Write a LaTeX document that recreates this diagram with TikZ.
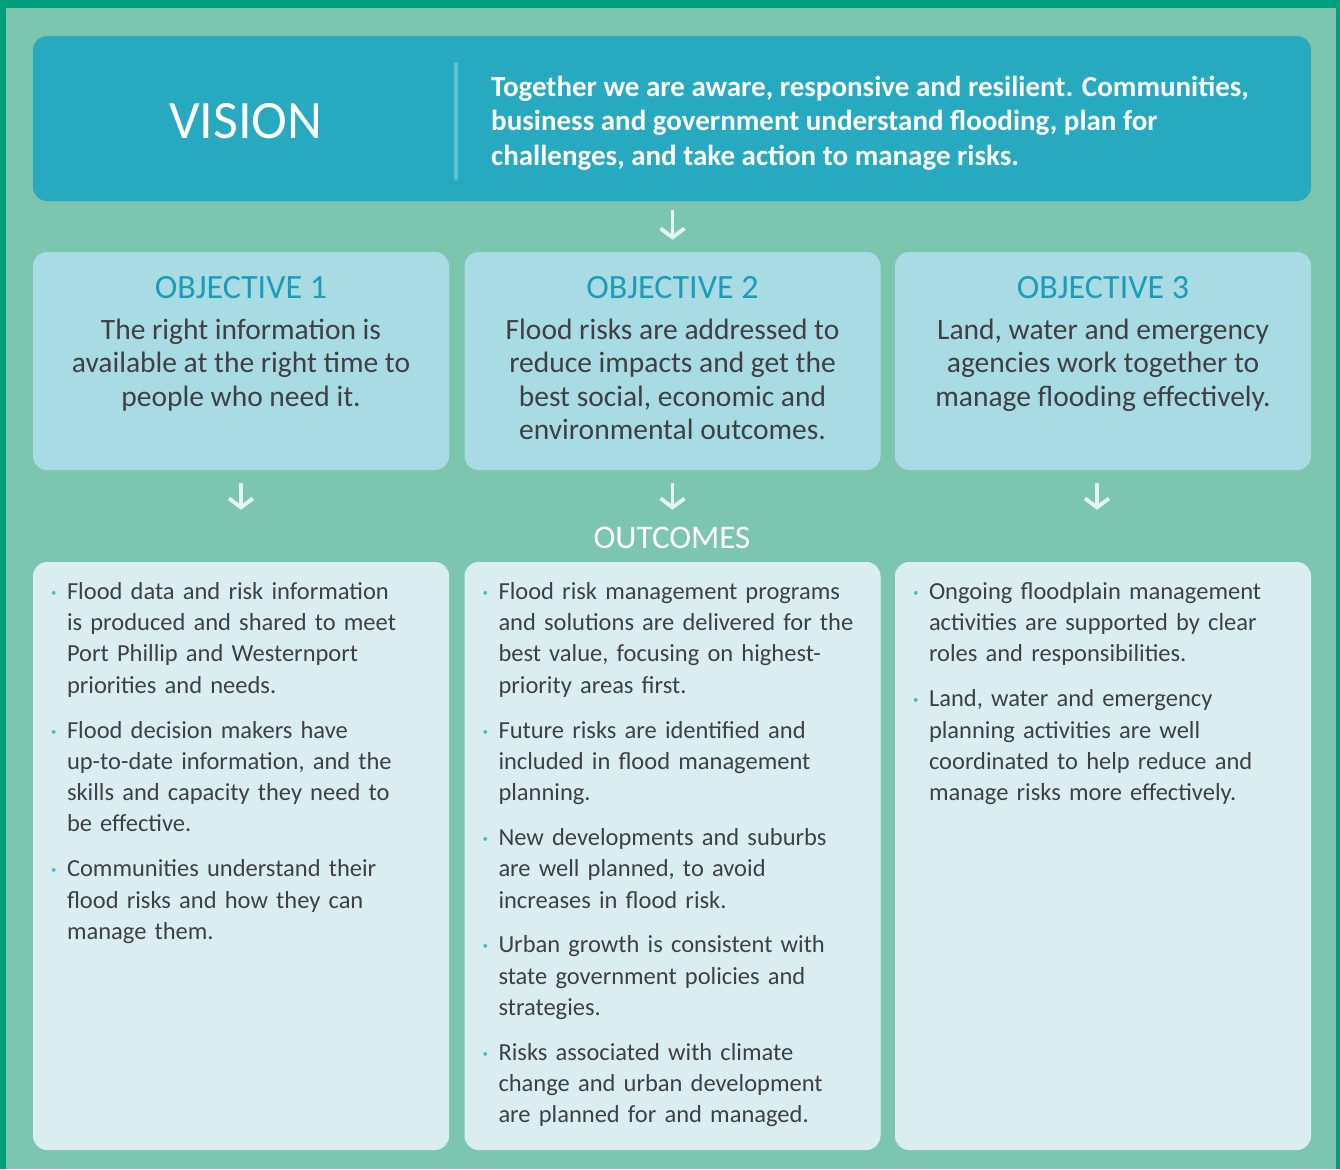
\documentclass[tikz,border=0pt]{standalone}
\usepackage{fontspec}
\setmainfont{Carlito}
\usetikzlibrary{arrows.meta,positioning}
\definecolor{frame}{HTML}{00A07C}
\definecolor{bg}{HTML}{7CC6AF}
\definecolor{vision}{HTML}{27AABF}
\definecolor{divider}{HTML}{5EC0D0}
\definecolor{objfill}{HTML}{A9DBE4}
\definecolor{objblue}{HTML}{1B9DBA}
\definecolor{outfill}{HTML}{DAEEF2}
\definecolor{bodygray}{HTML}{3E4042}
\definecolor{arrowc}{HTML}{E4F4EF}
\definecolor{dotc}{HTML}{4DB8CC}
\tikzset{
  panel/.style={rounded corners=14pt, inner sep=0pt},
  visionbox/.style={panel, fill=vision, minimum width=1278pt, minimum height=165pt},
  objbox/.style={panel, fill=objfill, minimum width=416pt, minimum height=218pt},
  outbox/.style={panel, fill=outfill, minimum width=416pt, minimum height=588pt},
  objtitle/.style={text=objblue, font=\fontsize{34}{36}\selectfont},
  objtext/.style={text=bodygray, align=center, inner sep=0pt, font=\fontsize{29.5}{33.5}\selectfont},
  outtext/.style={text=bodygray, text width=400pt, inner sep=0pt, font=\fontsize{24.5}{31.3}\selectfont},
  flow/.style={-{Straight Barb[length=9pt,width=24pt]}, line width=3.8pt, draw=arrowc}
}
\newenvironment{outlist}{%
  \begin{list}{\raisebox{3pt}{\fontsize{11}{11}\selectfont\textcolor{dotc}{\textbullet}}}{%
    \setlength{\leftmargin}{16pt}\setlength{\labelwidth}{16pt}%
    \setlength{\labelsep}{0pt}\setlength{\itemsep}{13.5pt}%
    \setlength{\parsep}{0pt}\setlength{\topsep}{0pt}%
    \renewcommand{\makelabel}[1]{##1\hfil}}\raggedright}%
  {\end{list}}

\begin{document}
\begin{tikzpicture}[x=1pt,y=-1pt]
  \useasboundingbox (0,0) rectangle (1340,1169);
  \fill[frame] (0,0) rectangle (1340,1169);
  \fill[bg] (6,8) rectangle (1336,1169);

  % vision
  \node[visionbox] (vision) at (672,118.5) {};
  \node[text=white, font=\fontsize{54}{54}\selectfont] (visionlbl) at (246,121) {VISION};
  \draw[divider, line width=4pt, line cap=round] (456,64) -- (456,178);
  \node[anchor=west, text=white, align=left, inner sep=0pt,
        font=\fontsize{29}{34.5}\selectfont\bfseries] (visiontext) at (491,123)
    {Together we are aware, responsive and resilient. Communities,\\
     business and government understand flooding, plan for\\
     challenges, and take action to manage risks.};

  % objectives
  \node[objbox] (obj1) at (241,361) {};
  \node[objbox] (obj2) at (672.5,361) {};
  \node[objbox] (obj3) at (1103,361) {};
  \node[objtitle] (t1) at ([yshift=-36pt]obj1.north) {OBJECTIVE 1};
  \node[objtitle] (t2) at ([yshift=-36pt]obj2.north) {OBJECTIVE 2};
  \node[objtitle] (t3) at ([yshift=-36pt]obj3.north) {OBJECTIVE 3};
  \node[objtext, anchor=north] (d1) at ([yshift=-67pt]obj1.north)
    {The right information is\\available at the right time to\\people who need it.};
  \node[objtext, anchor=north] (d2) at ([yshift=-67pt]obj2.north)
    {Flood risks are addressed to\\reduce impacts and get the\\best social, economic and\\environmental outcomes.};
  \node[objtext, anchor=north] (d3) at ([yshift=-67pt]obj3.north)
    {Land, water and emergency\\agencies work together to\\manage flooding effectively.};

  % outcomes
  \node[outbox] (out1) at (241,856) {};
  \node[outbox] (out2) at (672.5,856) {};
  \node[outbox] (out3) at (1103,856) {};
  \node[text=white, font=\fontsize{33}{33}\selectfont] (outlbl) at (672,538) {OUTCOMES};

  \node[outtext, anchor=north west] (l1) at ([xshift=18pt,yshift=-6pt]out1.north west) {%
    \begin{outlist}
    \item Flood data and risk information\\ is produced and shared to meet\\ Port Phillip and Westernport\\ priorities and needs.
    \item Flood decision makers have\\ up-to-date information, and the\\ skills and capacity they need to\\ be effective.
    \item Communities understand their\\ flood risks and how they can\\ manage them.
    \end{outlist}};
  \node[outtext, anchor=north west] (l2) at ([xshift=18pt,yshift=-6pt]out2.north west) {%
    \begin{outlist}
    \item Flood risk management programs\\ and solutions are delivered for the\\ best value, focusing on highest-\\ priority areas first.
    \item Future risks are identified and\\ included in flood management\\ planning.
    \item New developments and suburbs\\ are well planned, to avoid\\ increases in flood risk.
    \item Urban growth is consistent with\\ state government policies and\\ strategies.
    \item Risks associated with climate\\ change and urban development\\ are planned for and managed.
    \end{outlist}};
  \node[outtext, anchor=north west] (l3) at ([xshift=18pt,yshift=-6pt]out3.north west) {%
    \begin{outlist}
    \item Ongoing floodplain management\\ activities are supported by clear\\ roles and responsibilities.
    \item Land, water and emergency\\ planning activities are well\\ coordinated to help reduce and\\ manage risks more effectively.
    \end{outlist}};

  % arrows
  \draw[flow, shorten <=9pt, shorten >=12pt] (vision.south -| obj2.north) -- (obj2.north);
  \draw[flow, shorten <=13pt, shorten >=52pt] (obj1.south) -- (out1.north);
  \draw[flow, shorten <=13pt, shorten >=52pt] (obj2.south) -- (out2.north);
  \draw[flow, shorten <=13pt, shorten >=52pt] ([xshift=-6pt]obj3.south) -- ([xshift=-6pt]out3.north);
\end{tikzpicture}
\end{document}
